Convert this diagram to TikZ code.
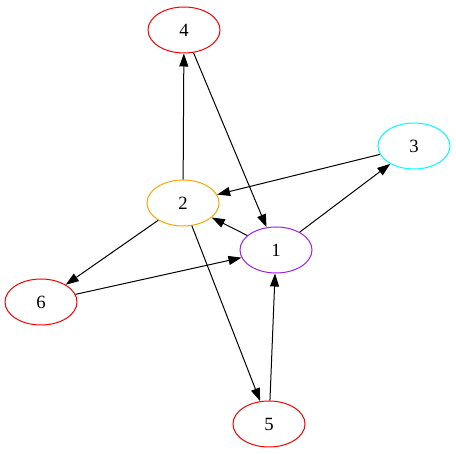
\documentclass[tikz,border=0pt]{standalone}
\usepackage{fontspec}
\setmainfont{Liberation Serif}
\usetikzlibrary{shapes.geometric,arrows.meta}
\definecolor{gvpurple}{HTML}{A020F0}
\definecolor{gvorange}{HTML}{FFA500}
\definecolor{gvcyan}{HTML}{00FFFF}
\begin{document}
\begin{tikzpicture}[x=1pt,y=-1pt,
  vnode/.style={ellipse,draw,line width=1pt,minimum width=72pt,minimum height=46pt,inner sep=0pt,font=\fontsize{18.7}{20}\selectfont},
  edge/.style={line width=1pt,-{Triangle[length=13pt,width=9pt]}}]
\useasboundingbox (0,0) rectangle (456,454);
\node[vnode,draw=red] (n4) at (184,30) {4};
\node[vnode,draw=gvcyan] (n3) at (414,146) {3};
\node[vnode,draw=gvorange] (n2) at (183,203) {2};
\node[vnode,draw=gvpurple] (n1) at (276,250) {1};
\node[vnode,draw=red] (n6) at (41,302) {6};
\node[vnode,draw=red] (n5) at (269,424) {5};
\draw[edge] (n2) -- (n4);
\draw[edge] (n4) -- (n1);
\draw[edge] (n1) -- (n3);
\draw[edge] (n3) -- (n2);
\draw[edge] (n1) -- (n2);
\draw[edge] (n2) -- (n6);
\draw[edge] (n6) -- (n1);
\draw[edge] (n2) -- (n5);
\draw[edge] (n5) -- (n1);
\end{tikzpicture}
\end{document}
